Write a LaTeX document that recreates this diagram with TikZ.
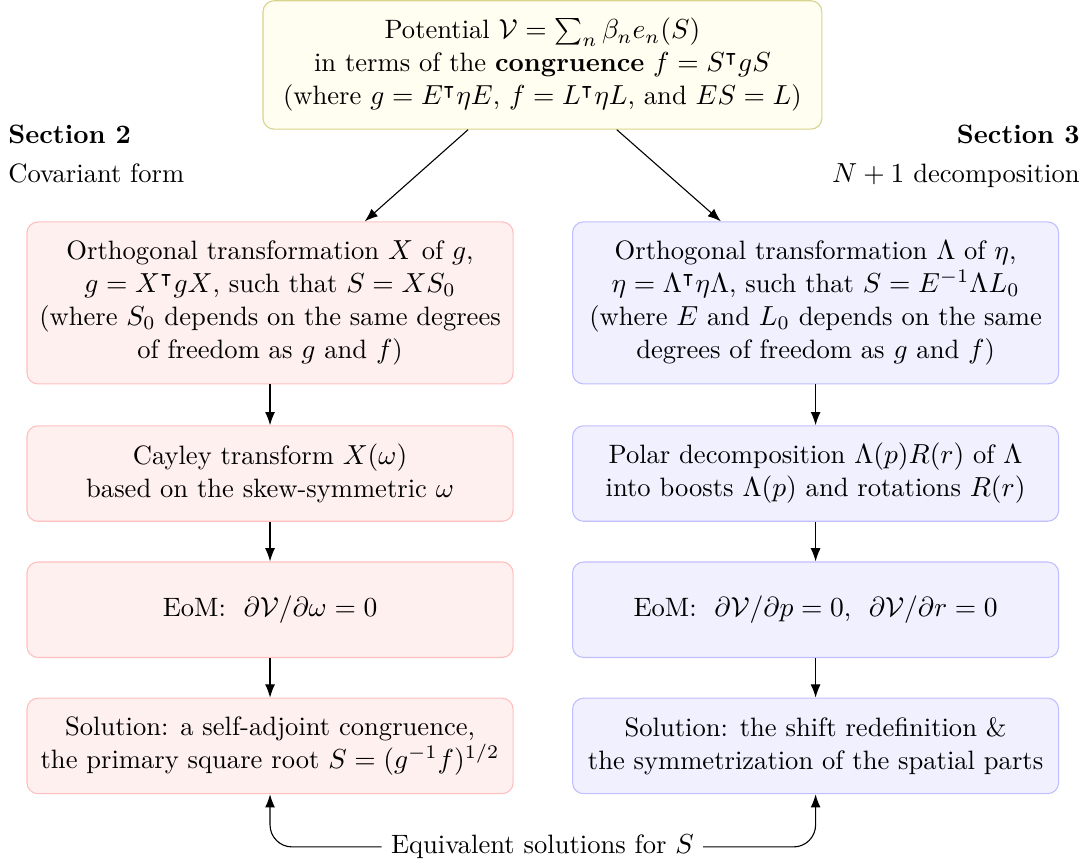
\documentclass[tikz,border=0pt]{standalone}
\usepackage{amsmath,amssymb}
\usepackage{tikz}
\usetikzlibrary{arrows.meta,positioning,calc}

\begin{document}
\fontsize{9.66pt}{12pt}\selectfont
\begin{tikzpicture}[
        topbox/.style={draw=olive!35, fill=yellow!6, rounded corners=4pt, align=center, minimum width=7.14cm, minimum height=1.64cm},
        covbox/.style={draw=red!25, fill=red!6, rounded corners=4pt, align=center, minimum width=6.21cm, minimum height=1.22cm},
        admbox/.style={draw=blue!25, fill=blue!6, rounded corners=4pt, align=center, minimum width=6.21cm, minimum height=1.22cm},
        flow/.style={-{Latex}}
    ]
        \useasboundingbox (0,0) rectangle (13.90,-11.03);

        % 1. The potential
        \node[topbox] (pot) at (6.93,-0.83) {Potential $\mathcal{V}=\sum_n\beta_n e_n(S)$\\
            in terms of the \textbf{congruence} $f=S^\intercal gS$\\
            (where $g=E^\intercal\eta E$, $f=L^\intercal\eta L$, and $ES=L$)};

        % 2. Section headers
        \node[anchor=base west, inner sep=0pt] (sec2) at (0.10,-1.83) {\textbf{Section 2}};
        \node[anchor=base west, inner sep=0pt] (sec2t) at (0.10,-2.33) {Covariant form};
        \node[anchor=base east, inner sep=0pt] (sec3) at (13.80,-1.83) {\textbf{Section 3}};
        \node[anchor=base east, inner sep=0pt] (sec3t) at (13.80,-2.33) {$N+1$ decomposition};

        % 3. Covariant column
        \node[covbox, minimum height=2.07cm] (cov1) at (3.45,-3.87) {Orthogonal transformation $X$ of $g$,\\
            $g=X^\intercal gX$, such that $S=XS_0$\\
            (where $S_0$ depends on the same degrees\\
            of freedom as $g$ and $f$)};
        \node[covbox] (cov2) at (3.45,-6.05) {Cayley transform $X(\omega)$\\
            based on the skew-symmetric $\omega$};
        \node[covbox] (cov3) at (3.45,-7.79) {EoM: \ $\partial\mathcal{V}/\partial\omega=0$};
        \node[covbox] (cov4) at (3.45,-9.53) {Solution: a self-adjoint congruence,\\
            the primary square root $S=(g^{-1}f)^{1/2}$};

        % 4. N+1 column
        \node[admbox, minimum height=2.07cm] (adm1) at (10.42,-3.87) {Orthogonal transformation $\Lambda$ of $\eta$,\\
            $\eta=\Lambda^\intercal\eta\Lambda$, such that $S=E^{-1}\Lambda L_0$\\
            (where $E$ and $L_0$ depends on the same\\
            degrees of freedom as $g$ and $f$)};
        \node[admbox] (adm2) at (10.42,-6.05) {Polar decomposition $\Lambda(p)R(r)$ of $\Lambda$\\
            into boosts $\Lambda(p)$ and rotations $R(r)$};
        \node[admbox] (adm3) at (10.42,-7.79) {EoM: \ $\partial\mathcal{V}/\partial p=0$, \ $\partial\mathcal{V}/\partial r=0$};
        \node[admbox] (adm4) at (10.42,-9.53) {Solution: the shift redefinition \&\\
            the symmetrization of the spatial parts};

        % 5. Equivalence
        \node (equiv) at (6.93,-10.82) {Equivalent solutions for $S$};

        % Arrows
        \draw[flow] ($(pot.south)+(-0.95,0)$) -- ($(cov1.north)+(1.21,0)$);
        \draw[flow] ($(pot.south)+(0.95,0)$) -- ($(adm1.north)+(-1.21,0)$);
        \foreach \a/\b in {cov1/cov2, cov2/cov3, cov3/cov4, adm1/adm2, adm2/adm3, adm3/adm4}
            \draw[flow] (\a) -- (\b);
        \draw[flow, rounded corners=8pt] (equiv.west) -| (cov4.south);
        \draw[flow, rounded corners=8pt] (equiv.east) -| (adm4.south);

    \end{tikzpicture}
\end{document}
